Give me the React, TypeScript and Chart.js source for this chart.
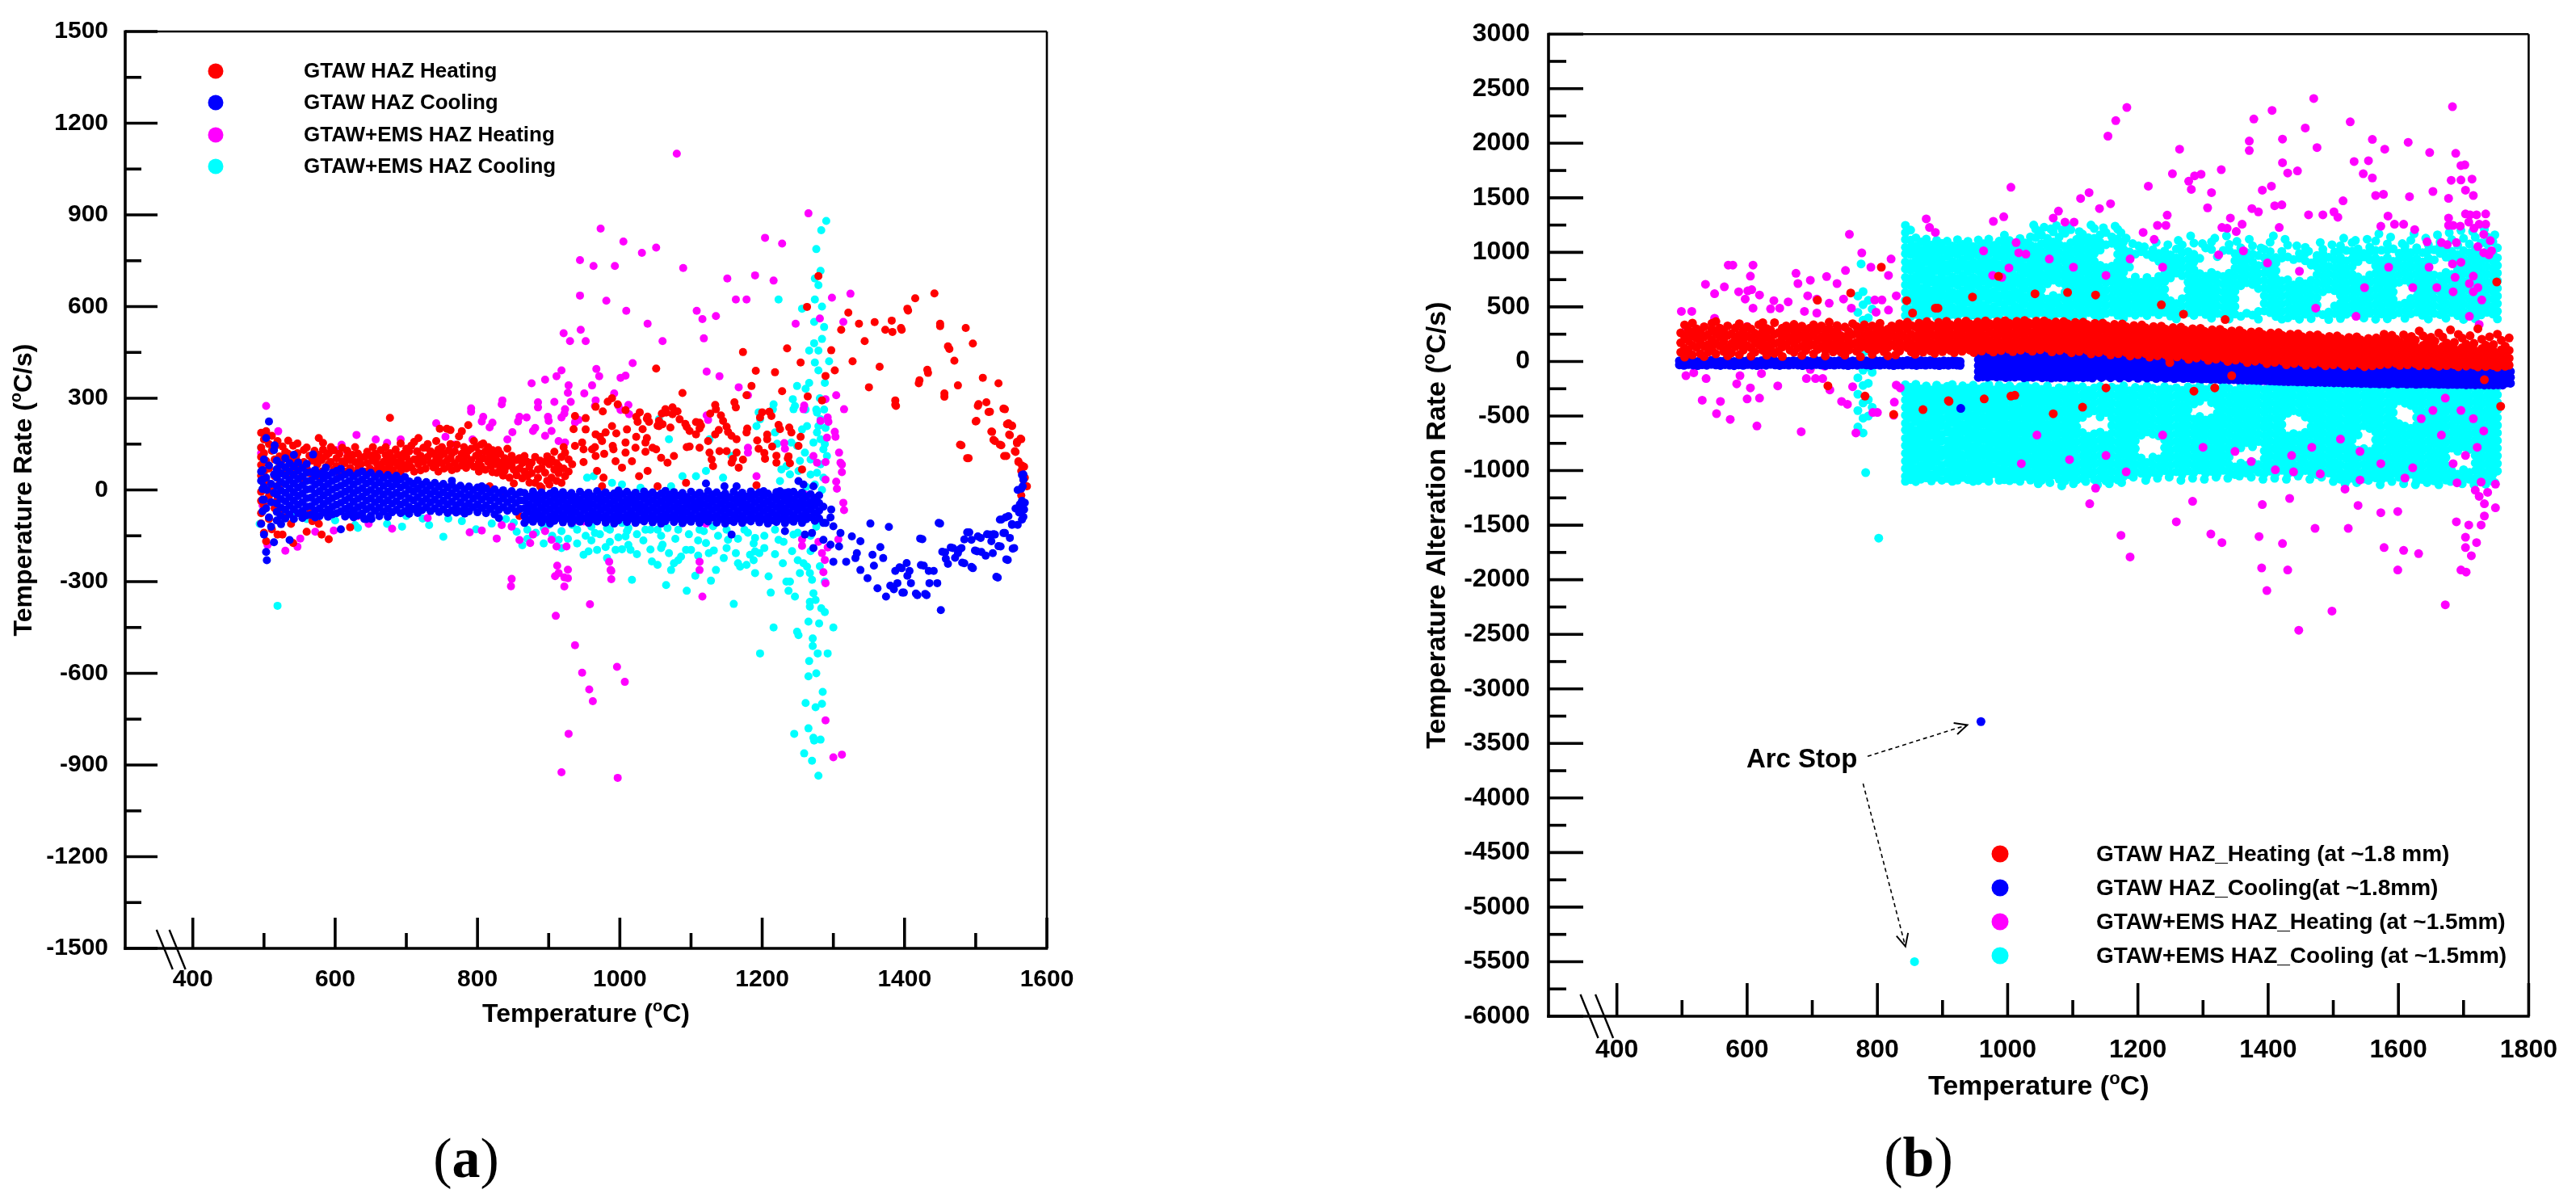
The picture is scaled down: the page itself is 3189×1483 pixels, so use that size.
import { useEffect, useRef } from 'react';
import Chart from 'chart.js/auto';

const FONT = '"Liberation Sans", Arial, Helvetica, sans-serif';
const SERIF = '"Liberation Serif", "Times New Roman", serif';

// every row is [temperature (°C), rate, rate, ...]

// ---------- panel (a) ----------
const heatA: number[][] = [
  [496, 187, 139, 108, 82, 47, -6, -36, -76, -110], [500, 165, 120, 60, 20, -50, -140], [503, 192, 95, 30, -168],
  [507, 150, 70, -20, -95], [511, 177, 128, 3, -129], [515, 140, 100, 45, -60], [519, 160, 65, -32, -146],
  [522, 110, 80, 20, -76], [526, 142, 100, -146], [530, 125, 55, -90], [534, 161, 118, 47], [538, 95, 60, -111],
  [541, 145, 70, -174], [545, 105, 73], [547, 152, 120], [552, 88, 40], [556, 131, 91], [560, 139, 70, -137],
  [564, 112, 55, -76], [568, 96, -102], [571, 128, 100, 62], [575, 84, 45], [577, 170, 115, -111], [581, 98, 60, -146],
  [583, 154, 132], [587, 75, 110], [591, 120, 85, -161], [594, 91, 140], [598, 130, 66], [602, 104, 78],
  [606, 118, 52], [610, 138, 93], [613, 87, 60], [617, 108, 128], [621, 72, 98, -122], [625, 115, 54],
  [628, 91, 140], [632, 119, 70], [636, 84, 105], [641, 108, 60], [645, 125, 88], [649, 70, 112], [653, 95, 140],
  [656, 62, 118], [659, 108, 85], [664, 130, 76], [668, 92, 58], [671, 115, 140], [674, 100, 72], [677, 236, 82, 120],
  [681, 64, 104], [685, 132, 90], [688, 78, 115], [692, 152, 96, 60], [696, 118, 82], [700, 108, 70, 135],
  [704, 92, 126], [707, 145, 74], [711, 157, 100, 60], [715, 100, 126], [717, 170, 84], [720, 64, 112],
  [724, 138, 92], [727, 139, 70], [730, 108, 150], [734, 126, 88], [738, 74, 118], [742, 82, 160, 100],
  [745, 132, 60], [747, 200, 110], [750, 88, 140], [753, 70, 118], [757, 200, 95], [760, 130, 76],
  [762, 196, 150, 104], [764, 65, 120], [768, 126, 88], [771, 148, 70], [774, 102, 175], [778, 192, 118, 80],
  [781, 94, 140], [784, 72, 112], [787, 212, 128, 86], [791, 135, 98], [795, 76, 160], [798, 112, 140],
  [802, 91, 120, 60], [805, 148, 78], [808, 152, 104], [811, 66, 126], [815, 92, 140], [817, 12, 116],
  [819, 78, 100], [821, 130, 58], [825, 84, 110], [827, 56, 95], [829, 91, 130], [832, 70, 118],
  [836, 47, -17, 88], [838, 104, 62], [842, 135, 78], [845, 92, 40], [848, 82, 112], [851, 21, 66],
  [855, 98, 48], [859, 104, -85, 70], [863, 38, 88], [866, 111, 60], [870, 45, 92], [873, 76, 24],
  [876, 89, 55], [881, 23, 108], [885, 67, 40], [888, 96, 12], [890, 7, 72], [895, 56, 92], [898, 30, 110],
  [901, 84, 18], [904, 40, 100], [908, 66, 125], [911, 30, 88], [914, 78, 55], [918, 23, 108], [921, 70, 140],
  [923, 122, 45], [928, 100, 60], [933, 84], [935, 199], [937, 144, 242], [947, 155], [949, 133, 91],
  [952, 235, 198], [961, 133], [965, 140], [966, 182, 111, 272], [968, 62], [972, 174], [975, 160, 12],
  [976, 257], [977, 40], [978, 118], [980, 188], [983, 289], [989, 209, 300], [990, 144], [991, 133],
  [994, 94], [995, 185], [997, 280], [1003, 73], [1008, 122, 155, 261], [1010, 198], [1017, 94], [1022, 138],
  [1023, 174, 239], [1025, 223], [1027, 45], [1028, 254], [1032, 199], [1036, 155, 125], [1038, 170, 233],
  [1039, 240, 62], [1041, 223], [1046, 138], [1051, 133, 397], [1053, 12, 210], [1055, 209, 226], [1058, 105],
  [1059, 250], [1060, 215], [1064, 264], [1065, 253], [1067, 89], [1071, 204], [1074, 248, 270], [1076, 111],
  [1081, 257], [1084, 231], [1088, 317], [1092, 216], [1093, 23], [1094, 206, 140], [1098, 193, 142],
  [1107, 182, 222], [1112, 201, 138, 220], [1114, 210], [1124, 160], [1126, 122], [1127, 250], [1129, 100],
  [1131, 78], [1134, 278, 182], [1135, 264], [1139, 196], [1140, 127], [1142, 244], [1145, 226], [1150, 127, 207],
  [1152, 190], [1157, 89, 177], [1159, 102], [1161, 287], [1163, 270], [1164, 166, 122], [1167, 73],
  [1173, 451, 99, -21], [1178, 188, 310], [1179, 201], [1185, 340], [1191, 390], [1192, 15], [1193, 162],
  [1195, 135], [1197, 237], [1200, 254], [1203, 121], [1204, 102], [1207, 166, 181], [1210, 256], [1213, 242],
  [1214, 142], [1218, 385], [1220, 89, 112], [1223, 213], [1225, 199], [1228, 323], [1235, 463], [1236, 103],
  [1237, 110], [1238, 204], [1239, 87], [1241, 188], [1251, 144], [1254, 417, 174], [1256, 67], [1263, 599],
  [1264, 306], [1279, 700], [1284, 293], [1289, 373], [1297, 457], [1302, 391], [1311, 524], [1321, 580],
  [1327, 421], [1336, 544], [1344, 487], [1350, 336], [1358, 549], [1365, 403], [1373, 524], [1382, 554],
  [1383, 517], [1387, 293, 279], [1388, 275], [1395, 530], [1396, 524], [1404, 593], [1405, 587], [1415, 627],
  [1420, 349], [1421, 359], [1432, 393], [1433, 383], [1442, 643], [1450, 544, 536], [1456, 316, 305],
  [1461, 470], [1463, 461], [1470, 423], [1475, 342], [1478, 148], [1480, 146], [1486, 530], [1488, 104],
  [1490, 104], [1496, 479], [1500, 224], [1501, 226], [1503, 275], [1504, 281], [1510, 367], [1515, 287],
  [1518, 255], [1520, 256], [1522, 191], [1523, 190], [1525, 164], [1527, 160], [1532, 349], [1534, 148],
  [1536, 146], [1539, 266], [1540, 111], [1541, 264], [1543, 111], [1544, 215], [1546, 218], [1547, 181],
  [1548, 179], [1551, 211, 209], [1555, 127], [1556, 124], [1558, 157, 153], [1560, 94, 91], [1563, 168],
  [1564, 166, 62, -18], [1565, 80], [1567, 33], [1568, 76], [1569, 40], [1572, 12],
];

const coolA: number[][] = [
  [496, -111, 30, 60], [498, 65, 34, 3, -32, -70], [500, -146, -32, 10, 100], [503, 170, -203, -60, 40],
  [504, -230, 0], [507, 224, -90, 80], [510, 20, -40, -120], [514, -171, 130, 50, -10], [515, 146],
  [518, 96, 68, 40, 12, -16, -44, -72, -100], [524, 82, 54, 26, -2, -30, -58, -86, -112],
  [530, 104, 74, 47, 19, -9, -37, -65, -93], [536, 88, 61, 33, 5, -23, -51, -79, -164],
  [542, 115, 77, 49, 21, -7, -35, -63, -95], [548, 90, 63, 36, 8, -20, -48, -76],
  [554, 72, 44, 16, -12, -40, -68, -92], [560, 85, 57, 29, 1, -27, -55, -83],
  [566, 58, 31, 3, -25, -53, -81], [569, 116], [572, 65, 44, 17, -11, -39, -67, -90], [578, 52, 24, -4, -32, -60, -86],
  [584, 60, 38, 10, -18, -46, -74], [587, 73], [590, 47, 20, -8, -36, -64, -88], [596, 56, 29, 1, -27, -55, -80],
  [602, 62, 36, 8, -20, -48, -76], [608, 69, 42, 14, -14, -42, -70, -129], [614, 50, 22, -6, -34, -62, -87],
  [620, 57, 30, 2, -26, -54, -79], [626, 45, 18, -10, -38, -66, -90], [632, 54, 27, -1, -29, -57, -83],
  [638, 61, 34, 6, -22, -50, -77], [641, -95], [644, 48, 21, -7, -35, -63, -95], [650, 56, 28, 0, -28, -56, -84],
  [651, -95], [656, 43, 16, -12, -40, -68], [662, 52, 25, -3, -31, -59, -86], [668, 40, 13, -15, -43, -71],
  [674, 49, 22, -6, -34, -62, -88], [680, 38, 11, -17, -45, -73], [683, 36], [686, 46, 19, -9, -37, -65],
  [692, 35, 8, -20, -48, -76], [698, 42, 15, -13, -41, -69],
  [704, 28, 1, -27, -55, -78], [710, 20, -6, -34, -62], [716, 31, 4, -24, -52, -75], [722, 17, -10, -38, -66],
  [728, 26, -1, -29, -57], [734, 14, -13, -41, -69], [740, 23, -4, -32, -60], [746, 11, -16, -44, -72],
  [752, 20, -7, -35, -63], [758, 8, -19, -47, -75], [764, 30, 17, -10, -38, -66], [770, 5, -22, -50, -74],
  [776, 14, -13, -41, -69], [782, 2, -25, -53, -77], [788, 11, -16, -44, -70], [794, -1, -28, -56],
  [800, 8, -19, -47, -73], [806, 12, -4, -31, -59], [812, 5, -22, -50, -76], [818, -7, -34, -62],
  [824, 2, -25, -53, -80], [830, -10, -37, -65, -92], [836, -1, -28, -56], [842, -13, -40, -68],
  [848, -4, -31, -59], [854, -16, -43, -71], [860, -7, -34, -62],
  [866, -10, -35, -60, -85, -108], [872, -22, -47, -72, -97], [878, -5, -30, -55, -80, -104],
  [884, -18, -43, -68, -93], [890, -8, -33, -58, -83, -107], [896, -20, -45, -70, -95],
  [902, -12, -37, -62, -87, -110], [908, -3, -28, -53, -78, -101], [914, -16, -41, -66, -91],
  [920, -7, -32, -57, -82, -106], [926, -19, -44, -69, -94], [932, -10, -35, -60, -85, -109],
  [938, -23, -48, -73, -98], [944, -6, -31, -56, -81, -104], [950, -17, -42, -67, -92],
  [956, -9, -34, -59, -84, -108], [962, -21, -46, -71, -96], [968, -4, -29, -54, -79, -103],
  [974, -15, -40, -65, -90], [980, -8, -33, -58, -83, -107], [986, -20, -45, -70, -95],
  [992, -11, -36, -61, -86, -110], [998, -2, -27, -52, -77, -100], [1004, -14, -39, -64, -89],
  [1010, -6, -31, -56, -81, -105], [1016, -18, -43, -68, -93], [1022, -9, -34, -59, -84, -108],
  [1028, -22, -47, -72, -97], [1034, -5, -30, -55, -80, -103], [1040, -16, -41, -66, -91],
  [1046, -8, -33, -58, -83, -106], [1052, -20, -45, -70, -95], [1058, -12, -37, -62, -87, -110],
  [1064, -3, -28, -53, -78, -102], [1070, -15, -40, -65, -90], [1076, -7, -32, -57, -82, -105],
  [1082, -19, -44, -69, -94], [1088, -10, -35, -60, -85, -109], [1094, -23, -48, -73, -98],
  [1100, -6, -31, -56, -81, -104], [1106, -17, -42, -67, -92], [1112, -9, -34, -59, -84, -108],
  [1118, -21, -46, -71, -96], [1121, 21], [1124, -4, -29, -54, -79, -103], [1130, -15, -40, -65, -90],
  [1136, -8, -33, -58, -83, -107], [1142, -20, -45, -70, -95], [1147, 12], [1148, -11, -36, -61, -86, -110],
  [1154, -24, -49, -74, -99], [1157, -146], [1160, -6, -31, -56, -81, -105], [1164, 12], [1166, -18, -43, -68, -93],
  [1172, -9, -34, -59, -84, -108], [1178, -22, -47, -72, -97], [1184, -5, -30, -55, -80, -103],
  [1190, -16, -41, -66, -91], [1196, -8, -33, -58, -83, -106], [1202, -4, -20, -45, -70, -95],
  [1208, -12, -37, -62, -87, -110], [1214, -24, -49, -74, -99], [1220, -7, -32, -57, -82, -105],
  [1225, -4], [1226, -19, -44, -69, -94], [1232, -10, -35, -60, -85, -109, -135], [1237, -7],
  [1238, -23, -48, -73, -98], [1244, -6, -31, -56, -81, -104], [1250, -17, -42, -67, -92], [1251, 29],
  [1256, -9, -34, -59, -84, -108], [1258, 18], [1260, -146], [1262, -21, -46, -71, -96], [1268, -14, -39, -64, -89],
  [1270, -141], [1272, 12, -190], [1274, -26, -51, -76, -101], [1280, -18, -43, -68, -93],
  [1286, -163, -55, -108], [1289, -108], [1296, -179, -90], [1297, -64], [1300, -119, -235], [1308, -185],
  [1310, -141], [1318, -235], [1326, -152], [1331, -223], [1333, -207], [1338, -168, -262], [1348, -289],
  [1352, -110], [1355, -212], [1357, -248], [1362, -322], [1366, -187], [1370, -223], [1374, -349],
  [1378, -121], [1380, -313], [1385, -325], [1387, -265], [1390, -305], [1393, -253], [1396, -256], [1397, -336],
  [1399, -336], [1403, -239], [1404, -281], [1407, -265], [1409, -305], [1416, -339], [1418, -344], [1422, -159],
  [1423, -246], [1425, -161], [1427, -248], [1429, -340], [1431, -344], [1434, -265], [1435, -305], [1441, -265],
  [1446, -305], [1448, -108], [1450, -110], [1451, -393], [1453, -202], [1457, -204], [1458, -225], [1461, -242],
  [1465, -188], [1468, -190], [1471, -222], [1475, -207], [1477, -195], [1480, -190], [1481, -238], [1484, -240, -162],
  [1488, -139], [1491, -139], [1494, -163, -252], [1496, -256], [1499, -198], [1502, -201], [1503, -152],
  [1507, -157], [1508, -203], [1514, -215], [1516, -145], [1520, -146], [1522, -168], [1524, -207], [1525, -145],
  [1527, -146], [1529, -284], [1531, -287], [1532, -184], [1534, -97], [1535, -185], [1536, -97], [1539, -141],
  [1541, -141], [1542, -90], [1543, -227], [1545, -229], [1546, -86], [1548, -157], [1551, -114, -112],
  [1552, -192], [1554, -190], [1556, -61], [1559, -114, 0], [1560, -64], [1561, -74], [1562, -47], [1564, 4],
  [1565, -97, -36, 49], [1566, 12], [1567, 34, 51, -88], [1568, -64], [1569, -42],
];

const emsHeatA: number[][] = [
  [496, 120], [498, -50], [503, 275], [505, -180], [520, 192], [530, -199], [547, -186], [551, -159],
  [572, -137], [598, -133], [602, 130], [609, 148], [617, 126], [630, 180], [632, -85], [647, -111],
  [657, 165], [673, 154], [680, -127], [692, 165], [715, 126], [730, -92], [742, 218], [749, 117],
  [755, 174], [768, 148], [789, -139], [791, 267, 256], [793, 165], [806, 224, 108, -133], [808, 239],
  [817, 205], [821, 220], [827, -159], [834, 280, -115], [835, 293], [842, 165], [847, -315], [848, -120, -291],
  [849, 189], [857, 224], [859, 239, -164], [869, 237], [874, -174], [876, 349], [878, 193, -146], [881, 203],
  [885, 287, 270], [895, 361, 177, -135], [899, 239], [900, 226], [904, 193, -163], [908, 288], [909, -282],
  [910, -412], [911, 372, -185], [912, -248], [914, 160, -272], [918, 391, 237, -924], [921, 513],
  [922, 250, -286, -316], [923, 264, 155], [925, -185], [927, 318, -261, -289], [928, 342, -798], [930, 487],
  [931, 288], [935, -103], [937, 221, -508], [942, 229], [944, 752, 636], [945, 524], [947, -598], [949, -103],
  [950, 316], [952, 487], [957, -653], [958, -374], [961, 342], [962, -691], [963, 733], [965, 275],
  [966, 293], [967, 396], [971, 372], [973, 855], [981, 619], [985, -235], [987, -262], [988, -292, -265],
  [992, 316], [993, 733], [996, -579], [997, -942], [998, 275], [1001, 367, 262], [1005, 813], [1007, -628],
  [1008, 374], [1009, 586], [1012, 278], [1013, 248], [1018, 415], [1031, 776], [1039, 544], [1051, 793],
  [1060, 487], [1080, 1100], [1089, 726], [1108, 586], [1112, -262, -235], [1116, 559, -349], [1118, 496],
  [1121, -110], [1122, 387, 244], [1124, 229], [1135, 569], [1140, 372], [1151, 692], [1163, 623],
  [1167, 336], [1178, 623], [1180, 310, 122, 138], [1190, 702], [1192, 45], [1204, 825], [1216, 685],
  [1228, 806], [1231, 153], [1232, 135], [1247, 544], [1256, -183, -162], [1258, 264], [1259, 276],
  [1260, -15], [1265, 905], [1272, -37, 111], [1277, 89], [1279, -170], [1281, 561], [1282, 226], [1284, -207],
  [1286, -269], [1288, -229], [1289, 34, 297, 91, -754, -305], [1291, 171], [1292, 237, -188], [1293, 223],
  [1298, 629], [1300, -875], [1302, 190], [1303, 174], [1304, 310, 27], [1305, 4], [1307, -162], [1308, 122],
  [1310, 89], [1312, 58, 83, -866], [1314, 550, -42], [1315, 264, -66], [1324, 642],
];

const emsCoolA: number[][] = [
  [494, -111], [496, 139], [519, -379], [540, -80], [560, -95], [600, -100], [628, -115], [632, -124],
  [673, -111], [694, -120], [700, -85], [723, -94], [732, -115], [752, -153], [759, -94], [778, -102],
  [798, -129], [820, -110], [840, -95], [851, -107], [855, -137], [863, -181],
  [870, -130, -160], [882, -140], [893, -125, -175], [900, -114], [905, -150], [914, -163], [918, -135, -190],
  [927, -160], [933, -114], [940, -130, -175], [949, -212], [952, -150], [954, 40], [956, -201], [960, -120, -165],
  [963, 45], [965, -141], [968, -196], [972, -145], [980, -187], [982, -223, -125], [986, -130, -170],
  [989, 23], [994, -196], [998, -155], [1003, -194, -108, 18], [1008, -152], [1010, -135], [1012, -125, -180],
  [1015, -196], [1017, -294], [1024, -145, -210], [1029, 7], [1033, -165], [1036, -130], [1043, -130, -195],
  [1045, -234], [1053, -245, -130], [1055, 231], [1058, -150, -190], [1060, -179], [1065, -311], [1067, -125],
  [1069, -207, 166], [1072, -262, 12], [1076, -240], [1078, -160], [1082, -130, -230], [1086, -218], [1088, 45],
  [1093, -196], [1094, -330], [1097, -145], [1100, -196], [1106, -281], [1107, 45], [1110, -165, -215],
  [1112, -130], [1118, -135], [1121, -174, 62], [1125, -207], [1126, 166], [1128, -297], [1131, -119],
  [1132, -198], [1135, -262], [1138, -150], [1145, 40], [1146, -223], [1150, -130, -190], [1152, -163],
  [1157, 111], [1160, -373], [1163, -207], [1166, -160, -240], [1169, -251], [1175, -130], [1178, -245],
  [1180, -140], [1183, -212], [1188, -175, -230], [1190, -201, -272, -157], [1192, 209], [1195, 254],
  [1196, -207], [1197, 231, -535], [1203, -150, -190], [1209, -283], [1212, -336], [1215, 264],
  [1216, -450, 280], [1218, 188, -130, -210], [1221, 151], [1223, 623, -163], [1225, 29], [1227, 67],
  [1229, -240], [1230, -170], [1234, 78, -300], [1237, -330], [1239, 51, -300], [1241, 155], [1242, -200],
  [1243, 297], [1244, 264, -146], [1245, -798], [1246, 275, -349], [1249, 144, 340, -464], [1250, -140, -230],
  [1251, 62, -475], [1253, 95, -272], [1256, 593, 198], [1258, -240], [1259, -862], [1260, 122],
  [1261, 331, 263, -697], [1262, -50, 10], [1263, 209, -251], [1265, -431, -610, -780], [1266, 456, -560, 350],
  [1267, -272, -366, -382], [1268, -150, -200, 100, 50], [1270, -294, -886], [1271, -486, -511],
  [1272, 155, -338, -811], [1273, -820, 480, 550], [1274, 692, 623, 417, 18], [1275, -360, -711],
  [1276, 788, 263, -600, -120], [1277, 253, 188, 56], [1278, -535], [1279, 670, 456, 391, 209, -935],
  [1280, -437], [1281, -100, -250, 300], [1282, 717, 231, 166, 84, 224, -817], [1283, -387, 850],
  [1284, 494, -700, 0, 600], [1285, -661], [1286, 133, 40], [1287, 533, 263], [1288, -300, -400, 350, 150],
  [1289, 203], [1290, 880], [1291, 111], [1292, -535], [1294, 421], [1300, -450],
];

// ---------- panel (b) ----------
const heatB: number[][] = [
  [498, 262, 171, 84], [504, 335, 228, 122, 40], [510, 288, 190, 95], [516, 352, 246, 148, 60], [522, 214, 130, 300],
  [528, 270, 176, 72], [534, 318, 225, 138, 45], [540, 248, 156, 84], [546, 296, 198, 112, 350], [552, 366, 258, 166, 70],
  [558, 228, 142, 306], [564, 276, 186, 92], [570, 326, 238, 128, 52], [576, 256, 164, 78], [582, 308, 208, 134],
  [588, 244, 154, 346, 62], [594, 286, 196, 104], [600, 236, 146, 318], [606, 298, 214, 124, 48], [612, 258, 176, 86],
  [618, 336, 236, 152], [624, 276, 186, 102, 356], [630, 226, 144, 302, 58], [636, 288, 204, 114], [642, 356, 248, 164, 74],
  [648, 264, 174, 96], [654, 306, 216, 132, 46], [660, 246, 156, 326], [666, 296, 196, 104], [672, 238, 164, 84, 340],
  [678, 286, 204, 124], [684, 324, 226, 138, 56], [690, 266, 176, 100], [696, 306, 216, 146], [702, 246, 154, 336, 70],
  [708, 562, 286, 196, 110], [714, 326, 226, 136], [720, 266, 176, 104, 50], [724, -224], [726, 306, 214, 144, 360],
  [732, 246, 156, 88], [738, 286, 206, 116, 330], [744, 236, 166, 84], [750, 316, 226, 136, 58], [756, 276, 186, 104],
  [759, 628], [762, 346, 246, 156], [768, 256, 176, 94, 320], [774, 296, 206, 126, 44], [780, 236, 156, 336],
  [781, -317], [786, 276, 196, 116], [792, 326, 236, 146, 66], [798, 266, 186, 106], [804, 306, 216, 136, 350],
  [806, 864], [810, 256, 166, 90], [816, 296, 206, 126, 52], [822, 246, 156, 326], [825, -486], [828, 306, 216, 60, 136],
  [834, 266, 176, 96, 346], [840, 326, 236, 146],
  [845, 557], [846, 296, 206, 126, 360], [852, 248, 168, 88, 330], [854, 444], [858, 318, 228, 142, 66],
  [864, 270, 186, 104, 352], [870, 236, 156, 310, 84, -441], [876, 292, 212, 128, 366], [882, 256, 176, 96, 334],
  [888, 320, 236, 150, 74], [889, 489], [893, 489], [894, 278, 192, 110, 358], [900, 244, 164, 316, 90],
  [906, 302, 218, 136, 368], [909, -359], [910, -366], [912, 262, 180, 100, 338], [918, 326, 240, 156, 80],
  [924, 284, 198, 116, 360], [930, 250, 170, 320, 94], [936, 308, 224, 140, 370], [942, 268, 186, 104, 344],
  [946, 591], [948, 330, 244, 160, 82], [954, 288, 202, 120, 362], [960, 254, 172, 326, 96], [964, -343],
  [966, 312, 228, 146, 372], [972, 272, 190, 108, 348], [978, 334, 248, 164, 86], [984, 292, 206, 124, 366],
  [986, 780], [990, 258, 176, 330, 100], [996, 316, 232, 150, 374], [1002, 276, 194, 112, 352], [1005, -317],
  [1008, 338, 252, 168, 90], [1011, -310], [1014, 296, 210, 128, 368], [1020, 262, 180, 334, 104],
  [1026, 320, 236, 154, 376], [1032, 280, 198, 116, 356], [1038, 342, 256, 172, 94], [1042, 620],
  [1044, 300, 214, 132, 370], [1050, 266, 184, 338, 108], [1056, 324, 240, 158, 372], [1062, 284, 202, 120, 354],
  [1068, 336, 250, 168, 88], [1070, -479], [1074, 294, 208, 126, 362], [1080, 258, 178, 330, 100],
  [1086, 314, 230, 148, 366], [1092, 632, 274, 192, 110, 346], [1098, 328, 242, 160, 80], [1104, 286, 200, 118, 358],
  [1110, 250, 170, 322, 92], [1115, -419], [1116, 306, 222, 140, 360], [1122, 266, 184, 102, 338],
  [1128, 318, 232, 150, 70], [1134, 276, 190, 108, 350], [1135, 609], [1140, 240, 160, 312, 82],
  [1146, 296, 212, 130, 352], [1151, -242], [1152, 256, 174, 92, 328], [1158, 308, 222, 140, 60],
  [1164, 266, 180, 98, 340], [1170, 230, 150, 302, 72], [1176, 286, 202, 120, 344], [1182, 246, 164, 82, 318],
  [1188, 298, 212, 130, 50], [1194, 256, 170, 88, 330], [1200, 220, 140, 292, 62], [1206, 276, 192, 110, 334],
  [1212, 236, 154, 72, 308], [1218, 288, 202, 120, 40], [1224, 246, 160, 78, 320], [1230, 210, 130, 282, 52],
  [1236, 519, 266, 182, 100, 324], [1242, 226, 144, 62, 298], [1248, 278, 192, 110, 30], [1249, -10],
  [1254, 236, 150, 68, 310], [1260, 200, 120, 272, 42], [1266, 256, 172, 90, 314], [1270, 433],
  [1272, 216, 134, 52, 288], [1278, 268, 182, 100, 20], [1284, 226, 140, 58, 300], [1286, -272],
  [1290, 190, 110, 262, 32], [1296, 246, 162, 80, 304], [1302, 206, 124, 42, 278], [1308, 258, 172, 90, 10],
  [1314, 216, 130, 48, 290], [1318, -242], [1320, 180, 100, 252, 22], [1326, 236, 152, 70, 294],
  [1332, 196, 114, 32, 268], [1334, 384], [1338, 248, 162, 80, 0], [1344, 206, 120, 38, 280, -130],
  [1350, 170, 90, 242, 12], [1356, 226, 142, 60, 284], [1362, 186, 104, 22, 258], [1368, 238, 152, 70, -10],
  [1374, 196, 110, 28, 270], [1380, 160, 80, 232, 2], [1386, 216, 132, 50, 274], [1392, 176, 94, 12, 248],
  [1398, 228, 142, 60, -20], [1404, 186, 100, 18, 260], [1410, 150, 70, 222, -8], [1416, 206, 122, 40, 264],
  [1422, 166, 84, 2, 238], [1428, 218, 132, 50, -30], [1434, 176, 90, 8, 250], [1440, 140, 60, 212, -18],
  [1446, 196, 112, 30, 254], [1452, 156, 74, -8, 228], [1458, 208, 122, 40, -36], [1464, 166, 80, -2, 240],
  [1470, 130, 50, 202, -24], [1476, 186, 102, 20, 244], [1482, 146, 64, -14, 218], [1488, 198, 112, 30, -40],
  [1494, 156, 70, -8, 230], [1500, 120, 40, 192, -30], [1506, 176, 92, 10, 234], [1512, 136, 54, -20, 208],
  [1518, 188, 102, 20, -44], [1524, 146, 60, -16, 220], [1530, 110, 30, 182, -36], [1536, 166, 82, 0, 226],
  [1542, 126, 44, -24, 198], [1548, 178, 92, 10, -48], [1554, 136, 50, -20, 210], [1560, 100, 20, 172, -40],
  [1566, 156, 72, -8, 216], [1572, 116, 34, -30, 188], [1578, 168, 82, 0, 250], [1584, 126, 40, -26, 200],
  [1590, 90, 10, 162, 240], [1596, 146, 62, -16, 206], [1602, 106, 24, -36, 178], [1608, 158, 72, -10, 244],
  [1614, 116, 30, -30, 190], [1620, 80, 0, 152, 230], [1626, 136, 52, -20, 196], [1632, 96, 14, -40, 280],
  [1638, 148, 62, -14, 234], [1644, 106, 20, -34, 180], [1650, 70, -10, 142, 222], [1656, 126, 42, -26, 186],
  [1662, 86, 4, -44, 260], [1668, 138, 52, -18, 224], [1674, 96, 10, -38, 170], [1680, 60, -20, 132, 290],
  [1686, 116, 32, -30, 176], [1692, 76, -6, -48, 248], [1698, 128, 42, -22, 214], [1704, 86, 0, -42, 160],
  [1710, 50, -26, 122, 236], [1716, 106, 22, -34, 166], [1722, 66, -14, -50, 300], [1728, 118, 32, -26, 204],
  [1732, -167], [1734, 76, -8, -46, 150], [1740, 40, -30, 112, 226], [1746, 96, 12, -38, 156], [1751, 729],
  [1752, 56, -20, -52, 250], [1757, -411], [1758, 108, 22, -30, 194], [1764, 66, -12, -44, 140], [1770, 30, -34, 102, 216],
];

const coolB: number[][] = [
  [496, 6, -31], [503, 2, -36], [510, 9, -28], [517, 4, -33], [524, 0, -38], [531, 7, -30], [538, 3, -35],
  [545, 10, -27], [552, 5, -32], [559, 1, -37], [566, 8, -29], [573, 4, -34], [580, -1, -39], [587, 6, -31],
  [594, 2, -36], [601, 9, -28], [608, 5, -33], [615, 0, -38], [622, 7, -30], [629, 3, -35], [636, 10, -27],
  [643, 4, -32], [650, -1, -37], [657, 6, -30], [664, 2, -34], [671, 8, -29], [678, 4, -33], [685, 0, -38],
  [692, 7, -31], [699, 3, -35], [706, 9, -28], [713, 5, -32], [720, 1, -37], [727, 6, -30], [734, 2, -34],
  [741, 8, -29], [748, 4, -33], [755, -1, -38], [762, 6, -31], [769, 3, -35], [776, 9, -28], [783, 5, -32],
  [790, 0, -37], [797, 7, -30], [804, 3, -34], [811, 8, -29], [818, 4, -33], [825, -1, -38], [832, 6, -31],
  [839, 2, -35], [846, 9, -28], [853, 5, -32], [860, 0, -37], [867, 7, -30], [874, 3, -34], [881, 8, -29],
  [888, 4, -33], [895, 0, -38], [902, 6, -31], [909, 2, -35], [916, 8, -29], [922, 4, -33], [927, 0, -36],
  [928, -430], [959, -3300],
  [955, 128, 72, 18, -38, -92, -146], [962, 140, 84, 26, -30, -86, -140], [969, 132, 76, 22, -34, -90, -144],
  [976, 146, 90, 34, -22, -78, -134], [983, 136, 80, 24, -32, -88, -142], [990, 142, 86, 30, -26, -82, -138],
  [997, 130, 74, 20, -36, -92, -148], [1004, 138, 82, 28, -28, -84, -140], [1011, 134, 78, 22, -34, -88, -144],
  [1018, 144, 88, 32, -24, -80, -136], [1025, 128, 72, 16, -40, -94, -150], [1032, 136, 80, 26, -30, -86, -142],
  [1039, 130, 76, 20, -36, -90, -146], [1046, 140, 84, 28, -28, -84, -138], [1053, 126, 70, 14, -42, -96, -150],
  [1060, 134, 78, 24, -32, -88, -144], [1067, 122, 66, 12, -44, -98, -152], [1074, 130, 74, 20, -36, -90, -146],
  [1081, 118, 62, 8, -48, -102, -148], [1088, 112, 58, 4, -50, -104, -144], [1095, 104, 50, -4, -58, -112, -150],
  [1102, 98, 44, -10, -64, -118, -146], [1109, 94, 40, -14, -68, -122, -142], [1116, 100, 46, -8, -62, -116, -150],
  [1123, 90, 36, -18, -72, -126, -144], [1130, 96, 42, -12, -66, -120, -152], [1137, 88, 34, -20, -74, -128],
  [1144, 94, 40, -14, -68, -122, -148], [1151, 86, 32, -22, -76, -130], [1158, 92, 38, -16, -70, -124, -150],
  [1165, 84, 30, -24, -78, -132], [1172, 90, 36, -18, -72, -126, -152], [1179, 82, 28, -26, -80, -134],
  [1186, 88, 34, -20, -74, -128, -150], [1193, 80, 26, -28, -82, -136], [1200, 86, 32, -22, -76, -130, -154],
  [1207, 78, 24, -30, -84, -138], [1214, 84, 30, -24, -78, -132, -152], [1221, 76, 22, -32, -86, -140],
  [1228, 82, 28, -26, -80, -134, -156], [1235, 74, 20, -34, -88, -142], [1242, 80, 26, -28, -82, -136, -154],
  [1249, 72, 18, -36, -90, -144], [1256, 78, 24, -30, -84, -138, -158], [1263, 70, 16, -38, -92, -146],
  [1270, 76, 22, -32, -86, -140, -156], [1277, 66, 12, -42, -96, -150], [1284, 72, 18, -36, -90, -144, -160],
  [1291, 62, 8, -46, -100, -154], [1298, 68, 14, -40, -94, -148, -162], [1305, 58, 4, -50, -104, -158],
  [1312, 64, 10, -44, -98, -152, -164], [1319, 54, 0, -54, -108, -162], [1326, 60, 6, -48, -102, -156, -166],
  [1333, 50, -4, -58, -112, -164], [1340, 56, 2, -52, -106, -160, -168], [1347, 46, -8, -62, -116, -166],
  [1354, 52, -2, -56, -110, -164, -170], [1361, 42, -12, -66, -120, -170], [1368, 48, -6, -60, -114, -168, -172],
  [1375, 38, -16, -70, -124, -172], [1382, 44, -10, -64, -118, -172, -174], [1389, 34, -20, -74, -128, -176],
  [1396, 40, -14, -68, -122, -176], [1403, 30, -24, -78, -132, -178], [1410, 36, -18, -72, -126, -180],
  [1417, 24, -30, -84, -138, -182], [1424, 18, -36, -90, -144, -184],
  [1431, 12, -42, -96, -150, -186], [1438, 8, -46, -100, -154, -184], [1445, 14, -40, -94, -148, -188],
  [1452, 4, -50, -104, -158, -186], [1459, 10, -44, -98, -152, -190], [1466, 0, -54, -108, -162, -188],
  [1473, 6, -48, -102, -156, -192], [1480, -4, -58, -112, -166, -190], [1487, 2, -52, -106, -160, -194],
  [1494, -8, -62, -116, -170, -192], [1501, -2, -56, -110, -164, -196], [1508, -12, -66, -120, -174, -194],
  [1515, -6, -60, -114, -168, -198], [1522, -16, -70, -124, -178, -196], [1529, -10, -64, -118, -172, -200],
  [1536, -20, -74, -128, -182, -198], [1543, -14, -68, -122, -176, -202], [1550, -24, -78, -132, -186, -200],
  [1557, -18, -72, -126, -180, -204], [1564, -28, -82, -136, -190, -202], [1571, -22, -76, -130, -184, -206],
  [1578, -32, -86, -140, -194, -204], [1585, -26, -80, -134, -188, -208], [1592, -36, -90, -144, -198],
  [1599, -30, -84, -138, -192, -206], [1606, -40, -94, -148, -202], [1613, -34, -88, -142, -196, -208],
  [1620, -44, -98, -152, -204], [1627, -38, -92, -146, -200, -210], [1634, -48, -102, -156, -206],
  [1641, -42, -96, -150, -204], [1648, -52, -106, -160, -208], [1655, -46, -100, -154, -206],
  [1662, -56, -110, -164, -210], [1669, -50, -104, -158, -208], [1676, -60, -114, -168, -212],
  [1683, -54, -108, -162, -210], [1690, -64, -118, -172, -212], [1697, -58, -112, -166, -210],
  [1704, -68, -122, -176, -214], [1711, -62, -116, -170, -212], [1718, -72, -126, -180, -214],
  [1725, -66, -120, -174, -212], [1732, -76, -130, -184, -216], [1739, -70, -124, -178, -214],
  [1746, -80, -134, -188, -216], [1753, -74, -128, -182, -214], [1760, -84, -138, -192, -216],
  [1767, -88, -142, -196], [1772, -92, -146, -200],
];

const emsHeatB: number[][] = [
  [499, 459], [506, 283, -130], [512, 47], [515, 459], [518, -103], [531, -355], [536, 707], [537, -156],
  [545, 150], [550, 621, 396], [553, -478], [559, -366], [565, 684], [571, 883], [574, -531], [578, 883],
  [584, -205], [587, 639], [589, -130], [597, 572], [600, -343, 320], [601, 647], [605, 782, -242], [607, 658],
  [609, 883, 489], [615, -591], [619, 609, -336], [622, -111], [636, 482], [641, 557], [647, -224], [650, 489],
  [663, 546], [675, 808], [678, 714], [683, -644], [688, 459], [690, 120], [691, -156], [693, 602],
  [697, 744, -73], [705, -156], [707, 572, 444], [716, -156], [719, -43], [722, 778], [726, 534], [727, -261],
  [738, 714], [740, 300], [745, -366], [748, 572], [751, 834], [754, -392], [757, 1165], [760, 489], [762, -231],
  [767, -655], [776, 995], [790, 864], [793, -467], [796, 564], [798, 452], [800, -467], [807, 564], [812, 140],
  [817, 471, 789], [821, 939], [825, -493], [826, -373], [829, 602, -216], [835, -242],
  [875, 1307], [880, 1228], [889, 1183], [963, 1014], [977, 789], [978, 1284], [991, 771], [994, 1326],
  [1002, 857], [1005, 1596], [1013, 1089], [1017, 996], [1028, 984], [1064, 939], [1070, 1314], [1078, 1378],
  [1088, 1277], [1101, 864], [1102, 1277], [1112, 1494], [1125, 1547], [1141, 1401], [1151, 789], [1154, 2065],
  [1158, 1446], [1166, 2207], [1183, 2327], [1188, 939], [1208, 1183], [1216, 1607], [1225, 1119], [1230, 1247],
  [1238, 864], [1243, 1247], [1245, 1341], [1253, 1720], [1264, 1945], [1278, 1652], [1282, 1577], [1287, 1701],
  [1297, 1716], [1307, 1408], [1313, 1547], [1324, 977], [1328, 1757], [1329, 1228], [1337, 1221], [1342, 1314],
  [1351, 1191], [1360, 1258], [1362, 1014], [1371, 2020, 1933], [1375, 1401], [1378, 2222], [1385, 1371],
  [1391, 1570], [1399, 902], [1405, 1607], [1406, 2301], [1410, 1427], [1417, 1228], [1421, 1435],
  [1422, 1821, 2038], [1430, 1727], [1445, 1746], [1448, 827], [1457, 2140], [1462, 1344], [1470, 2410],
  [1473, 489], [1475, 1960], [1484, 1344], [1501, 1371], [1507, 1322], [1515, 1472], [1526, 2196], [1532, 1832],
  [1535, 414], [1546, 1720], [1548, 677], [1554, 1840], [1560, 2035, 1682], [1565, 1521], [1573, 1239],
  [1577, 1532], [1579, 1945], [1584, 1333], [1585, 864], [1594, 1258], [1608, 1258], [1615, 2008], [1617, 1510],
  [1622, 677], [1625, 1209], [1644, 1097], [1647, 864], [1648, 1915], [1653, 1558], [1659, 677], [1666, 1089],
  [1675, 1071], [1677, 1495, 1314, 1247], [1681, 1660], [1683, 2335, 894], [1684, 1247, 639], [1687, 771],
  [1688, 1907], [1689, 1089], [1695, 1240], [1696, 1795, 1663, 909], [1702, 1802], [1703, 1570, 1352],
  [1708, 1277], [1709, 714, 414], [1710, 1344], [1713, 1671], [1715, 1521, 782, 639], [1716, 1221], [1720, 1344],
  [1722, 1052, 677], [1724, 1258, 339], [1728, 564], [1731, 1164, 996], [1734, 1352, 1258], [1739, 977],
  [1741, 1108], [1743, 1014],
  [1021, -936], [1045, -674], [1095, -899], [1126, -1304], [1135, -1161], [1151, -861], [1174, -1593],
  [1182, -1011], [1188, -1791], [1238, -674], [1259, -1469], [1284, -1281], [1300, -786], [1312, -1581],
  [1329, -1660], [1349, -824], [1374, -917], [1386, -1604], [1390, -1892], [1391, -1311], [1398, -2099],
  [1411, -993], [1422, -1668], [1430, -1911], [1433, -1255], [1436, -861], [1439, -1011], [1447, -2463],
  [1467, -786], [1472, -1529], [1480, -1030], [1498, -2287], [1511, -711], [1518, -1169], [1523, -1529],
  [1538, -1319], [1541, -824, -1086], [1573, -1386, -936], [1578, -1705], [1599, -1375, -1911], [1608, -1731],
  [1610, -1068], [1622, -974], [1631, -1761], [1635, -524], [1653, -449], [1666, -674], [1672, -2230, -336],
  [1684, -936], [1689, -1469], [1690, -1112], [1696, -449, -1911], [1703, -861, -1611, -1705], [1704, -1930],
  [1708, -1499], [1712, -1780], [1715, -524], [1718, -1180], [1720, -1660], [1721, -786], [1724, -1236],
  [1727, -1499, -1105], [1731, -636], [1732, -1416, -1304], [1737, -1199], [1749, -1341, -1124],
];

const emsCoolB: number[][] = [
  [770, 600, 450, 300, 150, 0, -150, -300, -450, -600], [775, 894],
  [778, 640, 520, 380, 230, 80, -80, -220, -380, -520, -655], [782, -1019],
  [786, 560, 400, 260, 100, -50, -200, -350, -500], [792, 480, 200, -100, -420], [802, -1619], [857, -5500],
  [843, 1248, 1181, 1118, 1046, 987, 912, 848, 771, 702, 633, 561, 487, 421, -213, -284, -352, -421, -493, -566, -628, -703, -771, -842, -913, -981, -1052, -1098],
  [851, 1204, 1112, 1043, 978, 899, 836, 762, 694, 621, 558, 479, 412, -238, -311, -383, -452, -518, -597, -661, -734, -802, -873, -941, -1012, -1083],
  [859, 1133, 1057, 992, 921, 853, 778, 716, 642, 571, 503, 432, -209, -277, -344, -418, -488, -553, -632, -694, -768, -838, -902, -977, -1046, -1101],
  [867, 1096, 1021, 958, 883, 812, 748, 667, 603, 528, 466, 394, -252, -318, -392, -457, -531, -598, -672, -737, -812, -878, -953, -1018, -1079],
  [875, 1122, 1049, 973, 912, 837, 769, 697, 628, 557, 488, 419, -224, -297, -363, -437, -503, -578, -643, -717, -783, -857, -928, -996, -1067],
  [883, 1068, 1002, 931, 862, 788, 727, 648, 587, 512, 443, -261, -328, -402, -468, -541, -612, -679, -757, -822, -893, -958, -1037, -1094],
  [891, 1111, 1038, 968, 897, 832, 753, 692, 617, 548, 477, 406, -216, -287, -353, -427, -498, -567, -641, -708, -778, -852, -918, -992, -1061],
  [899, 1083, 1017, 942, 877, 803, 738, 662, 598, 523, 457, 388, -247, -313, -382, -453, -527, -588, -667, -728, -807, -868, -947, -1013, -1088],
  [907, 1102, 1028, 963, 887, 823, 747, 683, 608, 543, 468, 401, -228, -302, -368, -442, -512, -587, -648, -727, -793, -862, -933, -1007, -1072],
  [915, 1058, 992, 918, 853, 777, 713, 637, 573, 497, 432, -212, -278, -352, -418, -492, -558, -637, -698, -772, -843, -912, -978, -1052, -1098],
  [923, 1116, 1043, 977, 902, 838, 762, 698, 622, 558, 482, 417, -257, -323, -397, -463, -537, -603, -677, -742, -817, -883, -957, -1023, -1087],
  [931, 1073, 1008, 932, 868, 792, 728, 652, 588, 512, 447, -223, -292, -363, -432, -503, -577, -638, -717, -778, -857, -922, -993, -1063],
  [939, 1101, 1027, 962, 887, 823, 747, 683, 607, 543, 467, 402, -242, -308, -382, -448, -522, -588, -662, -728, -802, -868, -942, -1008, -1082],
  [947, 1053, 988, 912, 848, 772, 708, 632, 568, 492, 427, -217, -283, -357, -423, -497, -563, -637, -703, -777, -843, -917, -983, -1057, -1099],
  [955, 1113, 1038, 973, 897, 833, 757, 693, 617, 553, 477, 412, -252, -318, -392, -458, -532, -598, -672, -738, -812, -878, -952, -1018, -1092],
  [963, 1078, 1012, 937, 873, 797, 733, 657, 593, 517, 453, 388, -232, -298, -372, -438, -512, -578, -652, -718, -792, -858, -932, -998, -1072],
  [971, 1121, 1047, 982, 907, 842, 767, 702, 627, 562, 487, 422, -213, -287, -353, -427, -493, -567, -633, -707, -773, -847, -913, -987, -1053, -1097],
  [979, 1063, 998, 922, 858, 782, 718, 642, 578, 502, 437, -262, -328, -402, -468, -542, -608, -682, -748, -822, -888, -962, -1028],
  [987, 1102, 1028, 963, 887, 823, 747, 683, 607, 543, 467, 397, -218, -292, -358, -432, -498, -572, -638, -712, -778, -852, -918, -992, -1058, -1089],
  [995, 1158, 1083, 1017, 942, 878, 802, 738, 662, 598, 522, 457, -243, -317, -383, -457, -523, -597, -663, -737, -803, -877, -943, -1017, -1083],
  [1003, 1108, 1033, 968, 892, 828, 752, 688, 612, 548, 472, 407, -223, -297, -363, -437, -503, -577, -643, -717, -783, -857, -923, -997, -1063, -1093],
  [1011, 1068, 1002, 927, 863, 787, 723, 647, 583, 507, 442, -257, -323, -397, -463, -537, -603, -677, -743, -817, -883, -957, -1023, -1078],
  [1019, 1127, 1052, 987, 912, 847, 772, 707, 632, 567, 492, 427, -232, -306, -372, -446, -512, -586, -652, -726, -792, -866, -932, -1006, -1072, -1098],
  [1027, 1087, 1012, 947, 872, 807, 732, 667, 592, 527, 452, 390, -212, -286, -352, -426, -492, -566, -632, -706, -772, -846, -912, -986, -1052],
  [1035, 1142, 1068, 1002, 928, 862, 788, 722, 648, 582, 508, 442, -247, -321, -387, -461, -527, -601, -667, -741, -807, -881, -947, -1021, -1087],
  [1043, 1213, 1135, 1050, 980, 910, 840, 770, 700, 630, 560, 490, 420, -230, -300, -370, -440, -510, -580, -650, -720, -790, -860, -930, -1000, -1070],
  [1052, 1160, 1080, 1010, 940, 870, 800, 730, 660, 590, 520, 450, -255, -325, -395, -465, -535, -605, -675, -745, -815, -885, -955, -1025, -1090],
  [1061, 1128, 1062, 992, 922, 852, 782, 712, 572, 502, 432, -225, -295, -365, -435, -505, -575, -645, -715, -785, -855, -925, -995, -1065],
  [1070, 1187, 1095, 1025, 955, 885, 815, 745, 605, 535, 465, 395, -270, -340, -410, -480, -550, -620, -690, -760, -830, -900, -970, -1040],
  [1079, 1140, 1072, 1002, 932, 862, 792, 722, 582, 512, 442, -240, -310, -380, -450, -520, -590, -660, -730, -800, -870, -940, -1010, -1080],
  [1088, 1175, 1055, 985, 915, 845, 775, 705, 635, 565, 495, 425, -260, -330, -400, -470, -540, -610, -680, -750, -820, -890, -960, -1030, -1095],
  [1097, 1208, 1088, 1018, 948, 878, 808, 738, 668, 598, 528, 458, 388, -220, -290, -360, -430, -500, -570, -640, -710, -780, -850, -920, -990, -1060],
  [1106, 1120, 1067, 997, 927, 857, 787, 717, 647, 577, 507, 437, -248, -318, -388, -458, -528, -598, -668, -738, -808, -878, -948, -1018, -1085],
  [1115, 1167, 1100, 1030, 960, 890, 820, 750, 680, 610, 540, 470, 400, -232, -302, -372, -442, -512, -652, -722, -792, -862, -932, -1002, -1072],
  [1124, 1134, 1078, 1008, 938, 868, 798, 728, 658, 588, 518, 448, -265, -335, -405, -475, -685, -755, -825, -895, -965, -1035],
  [1133, 1219, 1128, 1058, 988, 918, 848, 778, 708, 638, 568, 498, 428, -242, -312, -382, -452, -662, -732, -802, -872, -942, -1012, -1082],
  [1142, 1160, 1091, 1021, 881, 811, 741, 671, 601, 531, 461, 391, -228, -298, -368, -438, -508, -648, -718, -788, -858, -928, -998, -1068],
  [1151, 1182, 1070, 860, 790, 720, 650, 580, 510, 440, -258, -328, -398, -468, -678, -748, -818, -888, -958, -1028, -1095],
  [1160, 1142, 1083, 873, 803, 733, 663, 593, 523, 453, -235, -305, -375, -445, -515, -585, -655, -725, -795, -865, -935, -1005, -1075],
  [1169, 1211, 1123, 1053, 983, 913, 843, 773, 703, 633, 563, 493, 423, -250, -320, -390, -460, -530, -600, -670, -740, -810, -880, -950, -1020, -1085],
  [1178, 1097, 1027, 957, 887, 817, 747, 677, 607, 537, 467, 397, -223, -293, -363, -433, -503, -573, -643, -713, -783, -853, -923, -993, -1055],
  [1187, 1005, 935, 865, 725, 655, 585, 515, 445, -268, -338, -408, -478, -548, -618, -688, -758, -828, -898, -968, -1038],
  [1196, 984, 774, 704, 634, 564, 494, 424, -238, -308, -378, -448, -518, -588, -658, -728, -798, -868, -938, -1008],
  [1205, 1006, 726, 656, 586, 516, 446, -255, -325, -395, -465, -535, -605, -675, -885, -955, -1025],
  [1214, 980, 770, 700, 630, 560, 490, 420, -226, -296, -366, -436, -506, -576, -646, -926, -996, -1050],
  [1223, 1024, 954, 734, 664, 594, 524, 454, -246, -316, -386, -456, -526, -596, -666, -876, -946, -1016],
  [1232, 989, 919, 779, 709, 639, 569, 499, 429, -262, -332, -402, -472, -542, -612, -682, -892, -962, -1032],
  [1241, 1012, 941, 871, 801, 731, 661, 591, 521, 451, -230, -300, -370, -440, -510, -580, -650, -720, -790, -860, -930, -1000],
  [1250, 976, 906, 836, 766, 556, 486, 416, -253, -323, -393, -463, -533, -603, -673, -743, -813, -883, -953, -1023],
  [1259, 1030, 950, 880, 810, 530, 460, 390, -240, -310, -380, -450, -520, -590, -660, -730, -800, -870, -940, -1010],
  [1268, 1068, 996, 926, 856, 786, 576, 506, 436, -265, -335, -405, -475, -545, -615, -685, -755, -825, -895, -965, -1035],
  [1277, 1007, 937, 867, 797, 727, 657, 587, 517, 447, -233, -303, -373, -443, -513, -583, -653, -723, -793, -863, -933, -1003],
  [1286, 1085, 982, 912, 842, 772, 702, 632, 562, 492, 422, -249, -319, -389, -529, -599, -669, -739, -809, -879, -949, -1019],
  [1295, 945, 805, 735, 665, 595, 525, 455, -224, -294, -364, -504, -574, -644, -714, -784, -854, -924, -994],
  [1304, 1040, 781, 711, 641, 571, 501, 431, -257, -327, -537, -607, -677, -747, -817, -887, -957, -1027],
  [1313, 1096, 1026, 816, 746, 676, 606, 536, 466, 396, -237, -307, -377, -517, -587, -657, -727, -797, -867, -937, -1007],
  [1322, 961, 791, 721, 651, 581, 511, 441, -261, -331, -401, -471, -541, -611, -681, -751, -821, -891, -961, -1031],
  [1331, 1017, 779, 709, 639, 569, 499, 429, -228, -298, -368, -438, -508, -578, -648, -718, -788, -858, -928, -998],
  [1340, 1073, 1019, 809, 739, 669, 599, 529, 459, 389, -246, -316, -386, -456, -526, -596, -666, -736, -806, -876, -946, -1016],
  [1349, 988, 924, 854, 784, 714, 644, 574, 504, 434, -266, -336, -406, -476, -546, -616, -686, -756, -966, -1036],
  [1358, 1041, 974, 904, 834, 764, 694, 414, -231, -301, -371, -441, -511, -581, -651, -721, -791, -931, -1001],
  [1367, 998, 932, 862, 792, 722, 442, -254, -324, -394, -464, -534, -604, -674, -744, -954, -1024],
  [1376, 1060, 985, 915, 845, 775, 705, 425, -222, -292, -362, -432, -502, -572, -642, -712, -782, -922, -992],
  [1385, 971, 878, 808, 738, 668, 458, 388, -244, -314, -384, -454, -524, -594, -664, -734, -944, -1014],
  [1394, 1027, 953, 883, 813, 743, 673, 603, 533, 463, -259, -329, -399, -469, -539, -609, -679, -749, -819, -889, -959, -1029],
  [1403, 1092, 1007, 937, 867, 797, 727, 657, 587, 517, 447, -236, -306, -376, -446, -516, -586, -656, -726, -796, -866, -936, -1006],
  [1412, 952, 902, 832, 762, 692, 622, 552, 482, 412, -251, -321, -391, -461, -531, -601, -671, -741, -811, -881, -951, -1021],
  [1421, 1009, 948, 738, 668, 598, 528, 458, 388, -227, -297, -367, -437, -507, -577, -647, -717, -787, -857, -927, -997],
  [1430, 1067, 959, 749, 679, 609, 539, 469, 399, -264, -334, -404, -474, -684, -754, -824, -894, -964, -1034],
  [1439, 934, 701, 631, 561, 491, 421, -241, -311, -381, -451, -661, -731, -801, -871, -941, -1011],
  [1448, 990, 947, 737, 667, 597, 527, 457, 387, -256, -326, -396, -466, -676, -746, -816, -886, -956, -1026],
  [1457, 1046, 993, 923, 713, 643, 573, 503, 433, -229, -299, -369, -439, -509, -649, -719, -789, -859, -929, -999],
  [1466, 903, 883, 743, 673, 603, 533, 463, 393, -247, -317, -387, -457, -527, -597, -667, -737, -807, -877, -947, -1017],
  [1475, 972, 936, 866, 796, 726, 656, 586, 516, 446, -267, -337, -407, -477, -547, -617, -687, -757, -827, -897, -967, -1037],
  [1484, 1028, 989, 919, 849, 779, 709, 639, 429, -234, -304, -374, -444, -514, -584, -654, -724, -794, -864, -934, -1004],
  [1493, 954, 874, 804, 734, 664, 454, 384, -252, -322, -392, -462, -532, -602, -672, -742, -812, -882, -952, -1022],
  [1502, 1003, 929, 859, 789, 719, 649, 509, 439, -223, -293, -363, -433, -503, -573, -643, -713, -783, -853, -923, -993, -1063],
  [1511, 1061, 1024, 954, 884, 814, 744, 674, 604, 534, 464, 394, -245, -315, -385, -455, -525, -595, -665, -735, -805, -875, -945, -1015, -1080],
  [1520, 1017, 922, 852, 782, 712, 642, 572, 502, 432, -260, -330, -400, -470, -540, -610, -680, -750, -820, -890, -960, -1030, -1095],
  [1529, 1089, 1010, 940, 870, 800, 730, 660, 590, 520, 450, -230, -300, -370, -440, -510, -580, -650, -720, -790, -860, -930, -1000, -1070],
  [1538, 1032, 985, 915, 775, 705, 635, 565, 495, 425, -253, -323, -393, -463, -533, -603, -673, -813, -883, -953, -1023, -1089],
  [1547, 989, 958, 748, 678, 608, 538, 468, 398, -238, -308, -378, -448, -518, -588, -798, -868, -938, -1008, -1077],
  [1556, 1048, 1002, 932, 792, 722, 652, 582, 512, 442, -264, -334, -404, -474, -544, -614, -824, -894, -964, -1034],
  [1565, 1104, 1017, 947, 877, 807, 737, 667, 597, 527, 457, 387, -227, -297, -367, -437, -507, -577, -647, -717, -787, -857, -927, -997, -1067],
  [1574, 1019, 925, 855, 785, 715, 645, 575, 505, 435, -249, -319, -389, -459, -529, -599, -669, -739, -809, -879, -949, -1019, -1082],
  [1583, 1077, 1021, 951, 881, 811, 741, 671, 601, 531, 461, 391, -235, -305, -375, -445, -515, -585, -655, -725, -795, -865, -935, -1005, -1063],
  [1592, 1033, 918, 848, 778, 708, 638, 568, 498, 428, -258, -328, -398, -468, -538, -608, -678, -748, -818, -888, -958, -1028],
  [1601, 991, 936, 866, 796, 726, 516, 446, -221, -291, -361, -571, -641, -711, -781, -851, -921, -991, -1061],
  [1610, 1058, 1025, 955, 885, 815, 745, 535, 465, 395, -243, -313, -383, -593, -663, -733, -803, -873, -943, -1013, -1073],
  [1619, 1111, 997, 927, 857, 787, 717, 577, 507, 437, -263, -333, -403, -613, -683, -753, -823, -893, -963, -1033],
  [1628, 1042, 1013, 943, 873, 803, 733, 663, 593, 523, 453, -232, -302, -372, -442, -512, -582, -652, -722, -792, -862, -932, -1002, -1072, -1096],
  [1637, 998, 913, 843, 773, 703, 633, 563, 493, 423, -256, -326, -396, -466, -536, -606, -676, -746, -816, -886, -956, -1026, -1081],
  [1646, 1069, 1019, 949, 879, 809, 739, 669, 599, 529, 459, 389, -239, -309, -379, -449, -519, -589, -659, -729, -799, -869, -939, -1009, -1059],
  [1655, 1023, 931, 791, 721, 651, 581, 511, 441, -267, -337, -407, -477, -547, -617, -687, -757, -827, -897, -967, -1037, -1094],
  [1664, 1096, 1060, 990, 780, 710, 640, 570, 500, 430, -226, -296, -366, -436, -506, -576, -646, -716, -786, -856, -926, -996, -1066],
  [1673, 1051, 1026, 956, 816, 746, 676, 606, 536, 466, 396, -250, -320, -390, -460, -530, -600, -670, -740, -810, -880, -950, -1020, -1087],
  [1682, 1117, 1008, 938, 798, 728, 658, 588, 518, 448, -234, -304, -374, -444, -514, -584, -654, -724, -794, -1004, -1064],
  [1691, 1064, 980, 910, 840, 770, 700, 630, 560, 490, 420, -262, -332, -402, -472, -542, -612, -682, -752, -822, -1032, -1095],
  [1700, 1128, 1015, 945, 875, 805, 735, 665, 595, 525, 455, 385, -222, -292, -362, -432, -502, -572, -642, -712, -782, -992, -1062],
  [1709, 1076, 998, 928, 858, 788, 718, 648, 578, 508, 438, -247, -317, -387, -457, -527, -597, -667, -737, -807, -1017, -1080],
  [1718, 1139, 1022, 952, 882, 812, 742, 672, 602, 532, 462, 392, -231, -301, -371, -441, -511, -581, -651, -721, -791, -861, -931, -1001, -1071, -1100],
  [1727, 1087, 987, 917, 847, 777, 707, 637, 567, 497, 427, -257, -327, -397, -467, -537, -607, -677, -747, -817, -887, -957, -1027, -1085],
  [1736, 1143, 1080, 1010, 940, 870, 800, 730, 660, 590, 520, 450, -240, -310, -380, -450, -520, -590, -660, -730, -800, -870, -940, -1010, -1075],
  [1745, 1098, 994, 924, 854, 784, 714, 644, 574, 504, 434, -265, -335, -405, -475, -545, -615, -685, -755, -825, -895, -965, -1035, -1099],
  [1752, 1041, 950, 880, 810, 740, 670, 600, 530, 460, 390, -235, -305, -375, -445, -515, -585, -655, -725, -795, -865, -935, -1005],
  // ragged upper and lower fringe of the cloud
  [1040, 1250], [1048, 1190], [1056, 1230], [1066, 1215], [1075, 1245], [1084, 1205], [1093, 1238], [1110, 1190],
  [1128, 1250], [1147, 1225], [1165, 1240], [1174, 1180], [1182, 1130], [1192, 1080], [1201, 1060], [1210, 1050],
  [1228, 1090], [1246, 1070], [1262, 1110], [1281, 1150], [1299, 1080], [1318, 1130], [1336, 1150], [1352, 1100],
  [1371, 1120], [1389, 1040], [1408, 1150], [1426, 1120], [1444, 1060], [1462, 1010], [1480, 1090], [1498, 1070],
  [1516, 1130], [1534, 1110], [1552, 1120], [1570, 1170], [1588, 1140], [1606, 1080], [1624, 1170], [1642, 1130],
  [1660, 1160], [1678, 1180], [1696, 1200], [1714, 1190], [1732, 1210], [1748, 1160],
  [1047, -1120], [1065, -1110], [1083, -1140], [1101, -1120], [1120, -1100], [1138, -1130], [1156, -1120],
  [1175, -1110], [1193, -1060], [1212, -1090], [1230, -1070], [1248, -1060], [1266, -1090], [1284, -1070],
  [1302, -1080], [1320, -1060], [1338, -1070], [1356, -1050], [1374, -1060], [1392, -1080], [1410, -1070],
  [1428, -1080], [1446, -1050], [1464, -1080], [1482, -1060], [1500, -1100], [1518, -1120], [1536, -1110],
  [1554, -1090], [1572, -1130], [1590, -1100], [1608, -1120], [1626, -1130], [1644, -1110], [1662, -1130],
  [1680, -1100], [1698, -1120], [1716, -1130], [1734, -1125], [1748, -1110],
];

const xTicksA = [400, 600, 800, 1000, 1200, 1400, 1600];
const yTicksA = [-1500, -1200, -900, -600, -300, 0, 300, 600, 900, 1200, 1500];
const xTicksB = [400, 600, 800, 1000, 1200, 1400, 1600, 1800];
const yTicksB = [-6000, -5500, -5000, -4500, -4000, -3500, -3000, -2500, -2000, -1500, -1000, -500, 0, 500, 1000, 1500, 2000, 2500, 3000];

const RED = '#ff0000';
const BLUE = '#0000ff';
const MAGENTA = '#ff00ff';
const CYAN = '#00ffff';

type Part = [string, boolean];
const tempTitle: Part[] = [['Temperature (', false], ['o', true], ['C)', false]];

interface Series { label: string; color: string; rows: number[][]; order: number }
interface Panel {
  width: number; height: number;
  area: { left: number; top: number; right: number; bottom: number };
  xMin: number; xMax: number; yMin: number; yMax: number;
  xTicks: number[]; yTicks: number[];
  tickSize: number; xPad: number; yPad: number;
  yMajor: number; yMinor: number; xMajor: number; xMinor: number;
  radius: number;
  series: Series[];
  breakAt: number[]; breakUp: number; breakDown: number; breakDx: number;
  xTitle: { parts: Part[]; size: number; y: number };
  yTitle: { parts: Part[]; size: number; x: number };
  legend: { markX: number; textX: number; rows: number[]; size: number; r: number };
  tag: { letter: string; x: number; y: number };
  extra?: (chart: any) => void;
}

function toPoints(rows: number[][]) {
  const pts: { x: number; y: number }[] = [];
  rows.forEach((r) => {
    for (let i = 1; i < r.length; i++) pts.push({ x: r[0], y: r[i] });
  });
  return pts;
}

function midpoints(t: number[]) {
  const out: number[] = [];
  for (let i = 0; i < t.length - 1; i++) out.push((t[i] + t[i + 1]) / 2);
  return out;
}

function drawParts(ctx: CanvasRenderingContext2D, parts: Part[], size: number, x: number, y: number, vertical: boolean) {
  const big = `bold ${size}px ${FONT}`;
  const small = `bold ${Math.round(size * 0.64)}px ${FONT}`;
  let total = 0;
  const widths = parts.map(([t, sup]) => {
    ctx.font = sup ? small : big;
    const w = ctx.measureText(t).width;
    total += w;
    return w;
  });
  ctx.save();
  ctx.translate(x, y);
  if (vertical) ctx.rotate(-Math.PI / 2);
  ctx.fillStyle = '#000';
  ctx.textAlign = 'left';
  ctx.textBaseline = 'middle';
  let cx = -total / 2;
  parts.forEach(([t, sup], i) => {
    ctx.font = sup ? small : big;
    ctx.fillText(t, cx, sup ? -size * 0.3 : 0);
    cx += widths[i];
  });
  ctx.restore();
}

function decor(p: Panel) {
  return {
    id: 'decor',
    afterDraw(chart: any) {
      const { ctx, chartArea: a } = chart;
      const xs = chart.scales.x;
      const ys = chart.scales.y;
      const seg = (x1: number, y1: number, x2: number, y2: number) => {
        ctx.beginPath();
        ctx.moveTo(x1, y1);
        ctx.lineTo(x2, y2);
        ctx.stroke();
      };
      ctx.save();
      ctx.strokeStyle = '#000';
      ctx.fillStyle = '#000';
      ctx.lineCap = 'butt';
      ctx.lineWidth = 2.6;
      seg(a.left, a.top, a.right, a.top);
      seg(a.right, a.top, a.right, a.bottom);
      ctx.lineWidth = 3.6;
      seg(a.left, a.top - 1.5, a.left, a.bottom + 1.8);
      seg(a.left - 1.8, a.bottom, a.right + 1.3, a.bottom);

      // inward tick marks
      p.yTicks.forEach((v) => { const py = ys.getPixelForValue(v); seg(a.left, py, a.left + p.yMajor, py); });
      midpoints(p.yTicks).forEach((v) => { const py = ys.getPixelForValue(v); seg(a.left, py, a.left + p.yMinor, py); });
      p.xTicks.forEach((v) => { const px = xs.getPixelForValue(v); seg(px, a.bottom, px, a.bottom - p.xMajor); });
      midpoints(p.xTicks).forEach((v) => { const px = xs.getPixelForValue(v); seg(px, a.bottom, px, a.bottom - p.xMinor); });

      // axis break
      ctx.lineWidth = 2.4;
      p.breakAt.forEach((v) => {
        const px = xs.getPixelForValue(v);
        seg(px, a.bottom - p.breakUp, px + p.breakDx, a.bottom + p.breakDown);
      });

      // titles
      drawParts(ctx, p.xTitle.parts, p.xTitle.size, (a.left + a.right) / 2, p.xTitle.y, false);
      drawParts(ctx, p.yTitle.parts, p.yTitle.size, p.yTitle.x, (a.top + a.bottom) / 2, true);

      // legend
      ctx.textAlign = 'left';
      ctx.textBaseline = 'middle';
      ctx.font = `bold ${p.legend.size}px ${FONT}`;
      p.series.forEach((s, i) => {
        const y = p.legend.rows[i];
        ctx.fillStyle = s.color;
        ctx.beginPath();
        ctx.arc(p.legend.markX, y, p.legend.r, 0, Math.PI * 2);
        ctx.fill();
        ctx.fillStyle = '#000';
        ctx.fillText(s.label, p.legend.textX, y + 1);
      });

      // panel tag, e.g. (a)
      const tagSize = 70;
      ctx.textBaseline = 'middle';
      ctx.font = `${tagSize}px ${SERIF}`;
      const wo = ctx.measureText('(').width;
      const wc = ctx.measureText(')').width;
      ctx.font = `bold ${tagSize}px ${SERIF}`;
      const wl = ctx.measureText(p.tag.letter).width;
      let tx = p.tag.x - (wo + wl + wc) / 2;
      ctx.fillStyle = '#000';
      ctx.font = `${tagSize}px ${SERIF}`;
      ctx.fillText('(', tx, p.tag.y);
      tx += wo;
      ctx.font = `bold ${tagSize}px ${SERIF}`;
      ctx.fillText(p.tag.letter, tx, p.tag.y);
      tx += wl;
      ctx.font = `${tagSize}px ${SERIF}`;
      ctx.fillText(')', tx, p.tag.y);

      if (p.extra) p.extra(chart);
      ctx.restore();
    },
  };
}

function arrow(ctx: CanvasRenderingContext2D, x1: number, y1: number, x2: number, y2: number) {
  ctx.save();
  ctx.strokeStyle = '#000';
  ctx.lineWidth = 1.6;
  ctx.setLineDash([5, 4]);
  ctx.beginPath();
  ctx.moveTo(x1, y1);
  ctx.lineTo(x2, y2);
  ctx.stroke();
  ctx.setLineDash([]);
  const ang = Math.atan2(y2 - y1, x2 - x1);
  const len = 17;
  ctx.lineWidth = 2;
  ctx.beginPath();
  ctx.moveTo(x2 - len * Math.cos(ang - 0.45), y2 - len * Math.sin(ang - 0.45));
  ctx.lineTo(x2, y2);
  ctx.lineTo(x2 - len * Math.cos(ang + 0.45), y2 - len * Math.sin(ang + 0.45));
  ctx.stroke();
  ctx.restore();
}

// annotation anchor points in data units (temperature, rate)
const arcStopLabel = [684, -3650];
const arcArrowBlue = [785, -3618, 938, -3331];
const arcArrowCyan = [778, -3868, 843, -5360];

function drawArcStop(chart: any) {
  const { ctx } = chart;
  const xs = chart.scales.x;
  const ys = chart.scales.y;
  const px = (v: number) => xs.getPixelForValue(v);
  const py = (v: number) => ys.getPixelForValue(v);
  ctx.save();
  ctx.fillStyle = '#000';
  ctx.font = `bold 33px ${FONT}`;
  ctx.textAlign = 'center';
  ctx.textBaseline = 'middle';
  ctx.fillText('Arc Stop', px(arcStopLabel[0]), py(arcStopLabel[1]));
  ctx.restore();
  arrow(ctx, px(arcArrowBlue[0]), py(arcArrowBlue[1]), px(arcArrowBlue[2]), py(arcArrowBlue[3]));
  arrow(ctx, px(arcArrowCyan[0]), py(arcArrowCyan[1]), px(arcArrowCyan[2]), py(arcArrowCyan[3]));
}

const panelA: Panel = {
  width: 1500, height: 1483,
  area: { left: 155, top: 35, right: 1296, bottom: 1174 },
  xMin: 305, xMax: 1600, yMin: -1500, yMax: 1500,
  xTicks: xTicksA, yTicks: yTicksA,
  tickSize: 30, xPad: 21, yPad: 21,
  yMajor: 40, yMinor: 20, xMajor: 38, xMinor: 19,
  radius: 5,
  series: [
    { label: 'GTAW HAZ Heating', color: RED, rows: heatA, order: 2 },
    { label: 'GTAW HAZ Cooling', color: BLUE, rows: coolA, order: 1 },
    { label: 'GTAW+EMS HAZ Heating', color: MAGENTA, rows: emsHeatA, order: 3 },
    { label: 'GTAW+EMS HAZ Cooling', color: CYAN, rows: emsCoolA, order: 4 },
  ],
  breakAt: [349, 367], breakUp: 23, breakDown: 26, breakDx: 20,
  xTitle: { parts: tempTitle, size: 32, y: 1256 },
  yTitle: { parts: [['Temperature Rate (', false], ['o', true], ['C/s)', false]], size: 32, x: 30 },
  legend: { markX: 267, textX: 376, rows: [88, 127, 167, 206], size: 26, r: 9.5 },
  tag: { letter: 'a', x: 577, y: 1439 },
};

const panelB: Panel = {
  width: 1689, height: 1483,
  area: { left: 417, top: 36, right: 1638, bottom: 1258 },
  xMin: 295, xMax: 1800, yMin: -6000, yMax: 3000,
  xTicks: xTicksB, yTicks: yTicksB,
  tickSize: 32, xPad: 23, yPad: 23,
  yMajor: 43, yMinor: 22, xMajor: 41, xMinor: 20,
  radius: 5.5,
  series: [
    { label: 'GTAW HAZ_Heating (at ~1.8 mm)', color: RED, rows: heatB, order: 1 },
    { label: 'GTAW HAZ_Cooling(at ~1.8mm)', color: BLUE, rows: coolB, order: 2 },
    { label: 'GTAW+EMS HAZ_Heating (at ~1.5mm)', color: MAGENTA, rows: emsHeatB, order: 3 },
    { label: 'GTAW+EMS HAZ_Cooling (at ~1.5mm)', color: CYAN, rows: emsCoolB, order: 4 },
  ],
  breakAt: [344, 367], breakUp: 27, breakDown: 27, breakDx: 22,
  xTitle: { parts: tempTitle, size: 34, y: 1346 },
  yTitle: { parts: [['Temperature Alteration Rate (', false], ['o', true], ['C/s)', false]], size: 34, x: 280 },
  legend: { markX: 976, textX: 1095, rows: [1057, 1099, 1141, 1183], size: 28, r: 10.5 },
  tag: { letter: 'b', x: 875, y: 1438 },
  extra: drawArcStop,
};

function buildConfig(p: Panel): any {
  const datasets = p.series.map((s) => ({
    label: s.label,
    data: toPoints(s.rows),
    backgroundColor: s.color,
    borderWidth: 0,
    pointRadius: p.radius,
    pointHoverRadius: p.radius,
    order: s.order,
  }));
  const tickFont = { family: FONT, size: p.tickSize, weight: 'bold' as const };
  return {
    type: 'scatter',
    data: { datasets },
    plugins: [decor(p)],
    options: {
      responsive: false,
      animation: false,
      events: [],
      layout: {
        padding: { left: 0, top: p.area.top, right: p.width - p.area.right, bottom: p.height - p.area.bottom - 100 },
      },
      plugins: { legend: { display: false }, tooltip: { enabled: false } },
      scales: {
        x: {
          type: 'linear',
          min: p.xMin,
          max: p.xMax,
          grid: { display: false, drawTicks: false },
          border: { display: false },
          afterBuildTicks: (s: any) => { s.ticks = p.xTicks.map((v) => ({ value: v })); },
          afterFit: (s: any) => { s.height = 100; },
          ticks: { font: tickFont, color: '#000', padding: p.xPad, maxRotation: 0, autoSkip: false, callback: (v: any) => String(v) },
        },
        y: {
          type: 'linear',
          min: p.yMin,
          max: p.yMax,
          grid: { display: false, drawTicks: false },
          border: { display: false },
          afterBuildTicks: (s: any) => { s.ticks = p.yTicks.map((v) => ({ value: v })); },
          afterFit: (s: any) => { s.width = p.area.left; },
          ticks: { font: tickFont, color: '#000', padding: p.yPad, autoSkip: false, callback: (v: any) => String(v) },
        },
      },
    },
  };
}

export default function App() {
  const leftRef = useRef<HTMLCanvasElement>(null);
  const rightRef = useRef<HTMLCanvasElement>(null);

  useEffect(() => {
    if (!leftRef.current || !rightRef.current) return;
    const a = new Chart(leftRef.current, buildConfig(panelA));
    const b = new Chart(rightRef.current, buildConfig(panelB));
    return () => {
      a.destroy();
      b.destroy();
    };
  }, []);

  return (
    <div style={{ position: 'absolute', left: 0, top: 0, width: 3189, height: 1483, background: '#fff' }}>
      <canvas ref={leftRef} width={1500} height={1483} style={{ position: 'absolute', left: 0, top: 0, width: 1500, height: 1483 }} />
      <canvas ref={rightRef} width={1689} height={1483} style={{ position: 'absolute', left: 1500, top: 0, width: 1689, height: 1483 }} />
    </div>
  );
}
